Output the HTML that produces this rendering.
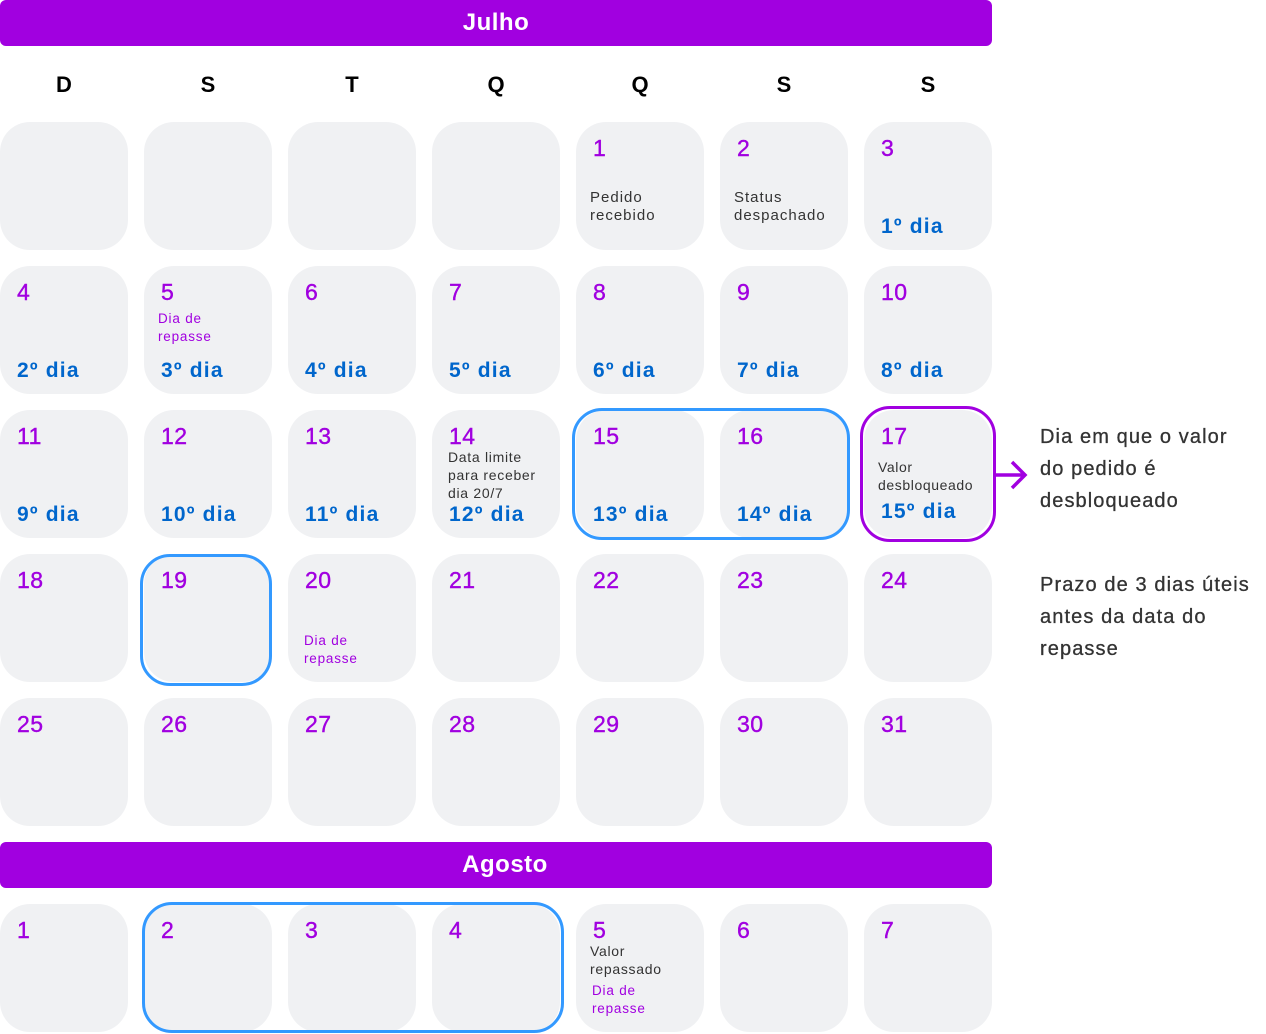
<!DOCTYPE html>
<html><head><meta charset="utf-8"><style>
*{margin:0;padding:0;box-sizing:border-box}
body{width:1266px;height:1034px;background:#fff;position:relative;font-family:"Liberation Sans",sans-serif;overflow:hidden}
.bar{position:absolute;left:0;width:992px;height:46px;background:#a100e0;border-radius:6px;color:#fff;font-weight:bold;font-size:24px;text-align:center;line-height:46px;letter-spacing:0.5px}
.c{position:absolute;width:128px;height:128px;background:#f0f1f3;border-radius:30px}
.t{position:absolute;white-space:nowrap;line-height:1}
.n{color:#a100e0;font-size:23px;left:17px;top:15px;letter-spacing:0.5px;-webkit-text-stroke:0.4px #a100e0}
.d{color:#0066cc;font-size:21px;font-weight:bold;left:17px;top:94px;letter-spacing:1.2px}
.s{color:#333;font-size:15px;left:14px;line-height:18px;letter-spacing:1px}
.r{color:#a100e0;font-size:13.5px;left:14px;line-height:18px;letter-spacing:0.8px}
.h{position:absolute;font-weight:bold;font-size:22px;width:128px;text-align:center;top:72px}
.b{position:absolute;border:3px solid #3399ff;border-radius:30px}
.p{color:#333;font-size:20px;line-height:32px;position:absolute;left:1040px;letter-spacing:1.1px;-webkit-text-stroke:0.3px #333}
</style></head><body>
<div class="bar" style="top:0">Julho</div>
<div class="bar" style="top:842px;padding-left:18px">Agosto</div>
<div class="h" style="left:0">D</div><div class="h" style="left:144px">S</div><div class="h" style="left:288px">T</div><div class="h" style="left:432px">Q</div><div class="h" style="left:576px">Q</div><div class="h" style="left:720px">S</div><div class="h" style="left:864px">S</div>

<div class="c" style="left:0;top:122px"></div>
<div class="c" style="left:144px;top:122px"></div>
<div class="c" style="left:288px;top:122px"></div>
<div class="c" style="left:432px;top:122px"></div>
<div class="c" style="left:576px;top:122px"><div class="t n">1</div><div class="t s" style="top:67px">Pedido<br>recebido</div></div>
<div class="c" style="left:720px;top:122px"><div class="t n">2</div><div class="t s" style="top:67px">Status<br>despachado</div></div>
<div class="c" style="left:864px;top:122px"><div class="t n">3</div><div class="t d">1º dia</div></div>

<div class="c" style="left:0;top:266px"><div class="t n">4</div><div class="t d">2º dia</div></div>
<div class="c" style="left:144px;top:266px"><div class="t n">5</div><div class="t r" style="top:44px">Dia de<br>repasse</div><div class="t d">3º dia</div></div>
<div class="c" style="left:288px;top:266px"><div class="t n">6</div><div class="t d">4º dia</div></div>
<div class="c" style="left:432px;top:266px"><div class="t n">7</div><div class="t d">5º dia</div></div>
<div class="c" style="left:576px;top:266px"><div class="t n">8</div><div class="t d">6º dia</div></div>
<div class="c" style="left:720px;top:266px"><div class="t n">9</div><div class="t d">7º dia</div></div>
<div class="c" style="left:864px;top:266px"><div class="t n">10</div><div class="t d">8º dia</div></div>

<div class="c" style="left:0;top:410px"><div class="t n">11</div><div class="t d">9º dia</div></div>
<div class="c" style="left:144px;top:410px"><div class="t n">12</div><div class="t d">10º dia</div></div>
<div class="c" style="left:288px;top:410px"><div class="t n">13</div><div class="t d">11º dia</div></div>
<div class="c" style="left:432px;top:410px"><div class="t n">14</div><div class="t s" style="top:38px;font-size:14px;left:16px;letter-spacing:0.7px">Data limite<br>para receber<br>dia 20/7</div><div class="t d">12º dia</div></div>
<div class="c" style="left:576px;top:410px"><div class="t n">15</div><div class="t d">13º dia</div></div>
<div class="c" style="left:720px;top:410px"><div class="t n">16</div><div class="t d">14º dia</div></div>
<div class="c" style="left:864px;top:410px"><div class="t n">17</div><div class="t s" style="top:48px;font-size:14px;letter-spacing:0.6px">Valor<br>desbloqueado</div><div class="t d" style="top:91px">15º dia</div></div>

<div class="c" style="left:0;top:554px"><div class="t n">18</div></div>
<div class="c" style="left:144px;top:554px"><div class="t n">19</div></div>
<div class="c" style="left:288px;top:554px"><div class="t n">20</div><div class="t r" style="top:78px;left:16px">Dia de<br>repasse</div></div>
<div class="c" style="left:432px;top:554px"><div class="t n">21</div></div>
<div class="c" style="left:576px;top:554px"><div class="t n">22</div></div>
<div class="c" style="left:720px;top:554px"><div class="t n">23</div></div>
<div class="c" style="left:864px;top:554px"><div class="t n">24</div></div>

<div class="c" style="left:0;top:698px"><div class="t n">25</div></div>
<div class="c" style="left:144px;top:698px"><div class="t n">26</div></div>
<div class="c" style="left:288px;top:698px"><div class="t n">27</div></div>
<div class="c" style="left:432px;top:698px"><div class="t n">28</div></div>
<div class="c" style="left:576px;top:698px"><div class="t n">29</div></div>
<div class="c" style="left:720px;top:698px"><div class="t n">30</div></div>
<div class="c" style="left:864px;top:698px"><div class="t n">31</div></div>

<div class="c" style="left:0;top:904px"><div class="t n">1</div></div>
<div class="c" style="left:144px;top:904px"><div class="t n">2</div></div>
<div class="c" style="left:288px;top:904px"><div class="t n">3</div></div>
<div class="c" style="left:432px;top:904px"><div class="t n">4</div></div>
<div class="c" style="left:576px;top:904px"><div class="t n">5</div><div class="t s" style="top:38px;font-size:14px;letter-spacing:0.7px">Valor<br>repassado</div><div class="t r" style="top:78px;left:16px">Dia de<br>repasse</div></div>
<div class="c" style="left:720px;top:904px"><div class="t n">6</div></div>
<div class="c" style="left:864px;top:904px"><div class="t n">7</div></div>

<div class="b" style="left:572px;top:408px;width:278px;height:132px"></div>
<div class="b" style="left:140px;top:554px;width:132px;height:132px"></div>
<div class="b" style="left:142px;top:902px;width:422px;height:131px"></div>
<div class="b" style="left:860px;top:406px;width:136px;height:136px;border-color:#a100e0;border-width:3.5px"></div>
<svg style="position:absolute;left:994px;top:458px" width="36" height="34"><path d="M0 17H31M18 4L31 17L18 30" stroke="#a100e0" stroke-width="3.5" fill="none"/></svg>

<div class="p" style="top:421px">Dia em que o valor<br>do pedido é<br>desbloqueado</div>
<div class="p" style="top:569px">Prazo de 3 dias úteis<br>antes da data do<br>repasse</div>
</body></html>
